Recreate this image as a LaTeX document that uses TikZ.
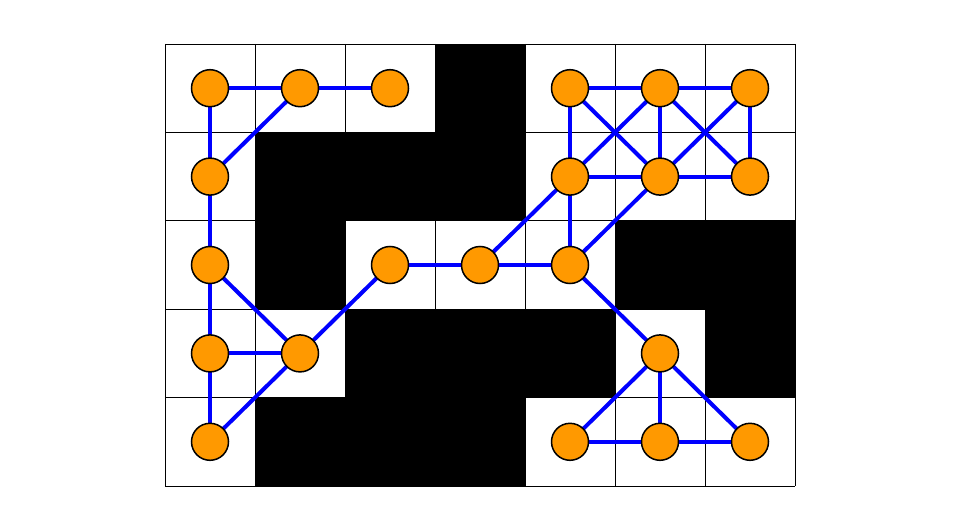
\documentclass[tikz,border=0pt]{standalone}
\usetikzlibrary{backgrounds}
\definecolor{nodeorange}{HTML}{FF9900}
\tikzset{
  vertex/.style={circle, draw=black, line width=1.5pt, fill=nodeorange, minimum size=37pt, inner sep=0pt},
  edge/.style={draw=blue, line width=4pt},
  cellline/.style={draw=black, line width=0.8pt},
  wall/.style={fill=black}
}
\begin{document}
\begin{tikzpicture}[x=1pt,y=1pt]
\useasboundingbox (0,0) rectangle (960,531);
\def\cw{90}\def\ch{88.4}
% vertices
\foreach \c/\r in {0/0,1/0,2/0,4/0,5/0,6/0, 0/1,4/1,5/1,6/1, 0/2,2/2,3/2,4/2, 0/3,1/3,5/3, 0/4,4/4,5/4,6/4}{
  \node[vertex] (n-\c-\r) at ({210+\cw*\c},{487-44.2-\ch*\r}) {};
}
\begin{scope}[on background layer]
% black cells
\foreach \c/\r in {3/0, 1/1, 2/1, 3/1, 1/2, 5/2, 6/2, 2/3, 3/3, 4/3, 6/3, 1/4, 2/4, 3/4}{
  \fill[wall] ({165+\cw*\c},{487-\ch*\r}) rectangle ({165+\cw*(\c+1)},{487-\ch*(\r+1)});
}
% grid lines
\foreach \c in {0,...,7}{ \draw[cellline] ({165+\cw*\c},487) -- ({165+\cw*\c},45); }
\foreach \r in {0,...,5}{ \draw[cellline] (165,{487-\ch*\r}) -- (795,{487-\ch*\r}); }
% edges
\foreach \a/\b in {0-0/1-0, 1-0/2-0, 0-0/0-1, 1-0/0-1, 0-1/0-2, 0-2/0-3, 0-2/1-3, 0-3/1-3, 0-3/0-4, 1-3/0-4, 1-3/2-2, 2-2/3-2, 3-2/4-2, 3-2/4-1, 4-2/4-1, 4-2/5-1, 4-2/5-3, 5-3/4-4, 5-3/5-4, 5-3/6-4, 4-4/5-4, 5-4/6-4, 4-0/5-0, 5-0/6-0, 4-0/4-1, 4-0/5-1, 5-0/4-1, 5-0/5-1, 5-0/6-1, 6-0/5-1, 6-0/6-1, 4-1/5-1, 5-1/6-1}{
  \draw[edge] (n-\a.center) -- (n-\b.center);
}
\end{scope}
\end{tikzpicture}
\end{document}
